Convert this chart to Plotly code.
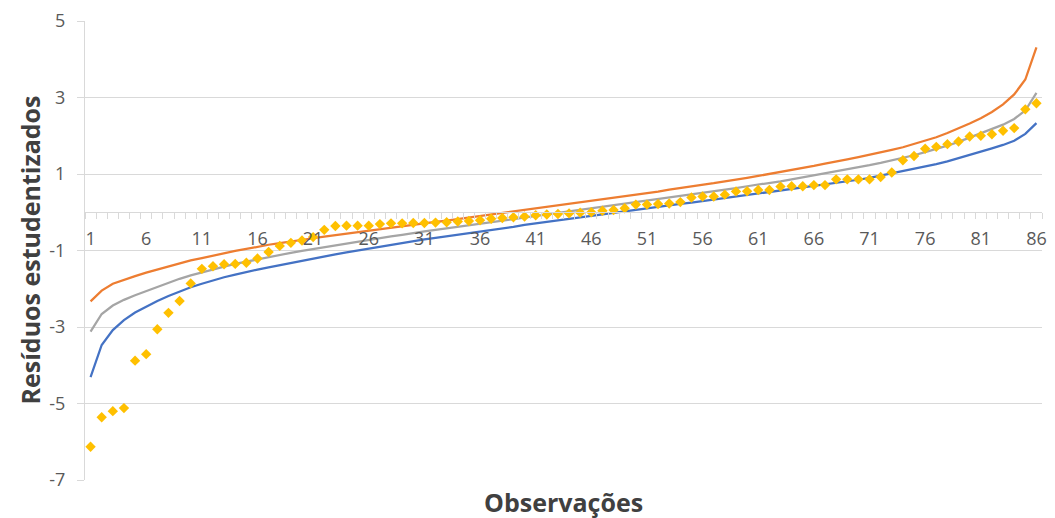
import plotly.graph_objects as go

obs = list(range(1, 87))

lower = [-4.31, -3.47, -3.08, -2.82, -2.62, -2.46, -2.32, -2.19, -2.07, -1.96,
         -1.87, -1.78, -1.70, -1.63, -1.56, -1.50, -1.44, -1.38, -1.32, -1.27,
         -1.21, -1.16, -1.10, -1.05, -1.00, -0.95, -0.90, -0.85, -0.81, -0.76,
         -0.71, -0.67, -0.63, -0.59, -0.54, -0.50, -0.46, -0.42, -0.38, -0.33,
         -0.29, -0.25, -0.21, -0.17, -0.13, -0.09, -0.05, -0.01, 0.03, 0.07,
         0.11, 0.14, 0.18, 0.22, 0.25, 0.29, 0.32, 0.37, 0.40, 0.45,
         0.48, 0.52, 0.56, 0.60, 0.64, 0.68, 0.72, 0.76, 0.81, 0.85,
         0.90, 0.96, 1.01, 1.07, 1.13, 1.20, 1.26, 1.33, 1.41, 1.50,
         1.58, 1.67, 1.76, 1.87, 2.05, 2.33]

upper = [-2.33, -2.05, -1.87, -1.76, -1.67, -1.58, -1.50, -1.41, -1.33, -1.26,
         -1.20, -1.13, -1.07, -1.01, -0.96, -0.90, -0.85, -0.81, -0.76, -0.72,
         -0.68, -0.64, -0.60, -0.56, -0.52, -0.48, -0.45, -0.40, -0.37, -0.32,
         -0.29, -0.25, -0.22, -0.18, -0.14, -0.11, -0.07, -0.03, 0.01, 0.05,
         0.09, 0.13, 0.17, 0.21, 0.25, 0.29, 0.33, 0.38, 0.42, 0.46,
         0.50, 0.54, 0.59, 0.63, 0.67, 0.71, 0.76, 0.81, 0.85, 0.90,
         0.95, 1.00, 1.05, 1.10, 1.16, 1.21, 1.27, 1.32, 1.38, 1.44,
         1.50, 1.56, 1.63, 1.70, 1.78, 1.87, 1.96, 2.07, 2.19, 2.32,
         2.46, 2.62, 2.82, 3.08, 3.47, 4.31]

median = [-3.12, -2.66, -2.44, -2.29, -2.17, -2.06, -1.95, -1.84, -1.74, -1.65,
          -1.57, -1.49, -1.42, -1.35, -1.29, -1.23, -1.17, -1.12, -1.06, -1.01,
          -0.96, -0.91, -0.86, -0.81, -0.77, -0.72, -0.68, -0.63, -0.59, -0.54,
          -0.50, -0.46, -0.42, -0.38, -0.34, -0.30, -0.26, -0.22, -0.18, -0.14,
          -0.10, -0.06, -0.02, 0.02, 0.06, 0.10, 0.14, 0.18, 0.22, 0.26,
          0.30, 0.34, 0.38, 0.42, 0.46, 0.50, 0.54, 0.59, 0.63, 0.68,
          0.72, 0.77, 0.81, 0.86, 0.91, 0.96, 1.01, 1.06, 1.12, 1.17,
          1.23, 1.29, 1.35, 1.42, 1.49, 1.57, 1.65, 1.74, 1.84, 1.95,
          2.06, 2.17, 2.29, 2.44, 2.66, 3.12]

residuals = [-6.13, -5.36, -5.20, -5.12, -3.88, -3.71, -3.06, -2.63, -2.32, -1.86,
             -1.48, -1.41, -1.36, -1.35, -1.32, -1.21, -1.04, -0.88, -0.80, -0.74,
             -0.65, -0.46, -0.36, -0.35, -0.35, -0.35, -0.31, -0.29, -0.29, -0.28,
             -0.28, -0.27, -0.26, -0.24, -0.23, -0.21, -0.17, -0.15, -0.13, -0.11,
             -0.08, -0.06, -0.045, -0.03, -0.01, 0.0, 0.04, 0.06, 0.105, 0.20,
             0.20, 0.215, 0.23, 0.265, 0.385, 0.41, 0.41, 0.46, 0.545, 0.55,
             0.58, 0.58, 0.67, 0.68, 0.68, 0.71, 0.71, 0.86, 0.86, 0.86,
             0.86, 0.92, 1.04, 1.36, 1.47, 1.66, 1.71, 1.78, 1.85, 1.98,
             2.00, 2.04, 2.13, 2.20, 2.69, 2.85]

y_ticks = [-7, -5, -3, -1, 1, 3, 5]
y_ticktext = ["-7", "-5", "-3", "-1", "1", "3", "5"]
x_ticks = list(range(1, 87, 5))

y_min, y_max = -7, 5

fig = go.Figure()
fig.add_trace(go.Scatter(x=obs, y=lower, mode="lines", name="Inferior",
                         line=dict(color="#4472C4", width=2.25)))
fig.add_trace(go.Scatter(x=obs, y=upper, mode="lines", name="Superior",
                         line=dict(color="#ED7D31", width=2.25)))
fig.add_trace(go.Scatter(x=obs, y=median, mode="lines", name="Mediana",
                         line=dict(color="#A5A5A5", width=2.25)))
fig.add_trace(go.Scatter(x=obs, y=residuals, mode="markers", name="Resíduos",
                         marker=dict(symbol="diamond", color="#FFC000", size=8,
                                     line=dict(width=0))))

tick_font = dict(family="'Open Sans', sans-serif", size=18, color="#595959")
title_font = dict(family="'Open Sans', sans-serif", size=25, color="#404040")

fig.update_layout(
    width=1055, height=518,
    margin=dict(l=85, r=8, t=17, b=38),
    paper_bgcolor="white", plot_bgcolor="white",
    showlegend=False,
    font=dict(family="'Open Sans', sans-serif", color="#595959", size=17),
    xaxis=dict(
        range=[0.5, 86.5],
        anchor="free",
        position=(0 - y_min) / (y_max - y_min),
        tickvals=x_ticks,
        ticktext=[str(v) for v in x_ticks],
        ticks="outside", ticklen=0,
        ticklabelstandoff=10,
        minor=dict(ticks="outside", ticklen=6, tick0=0.5, dtick=1,
                   tickcolor="#D9D9D9", tickwidth=1, showgrid=False),
        showline=True, linecolor="#D9D9D9", linewidth=1,
        showgrid=False, zeroline=False,
        tickfont=tick_font,
    ),
    yaxis=dict(
        range=[y_min, y_max],
        tickvals=y_ticks,
        ticktext=y_ticktext,
        ticks="outside", ticklen=7, tickcolor="#D9D9D9",
        ticklabelstandoff=8,
        showline=True, linecolor="#D9D9D9", linewidth=1,
        showgrid=True, gridcolor="#D9D9D9", gridwidth=1,
        zeroline=False,
        tickfont=tick_font,
    ),
    annotations=[
        dict(text="<b>Observações</b>", xref="paper", yref="paper",
             x=0.5, y=0, xanchor="center", yanchor="top", yshift=-3,
             showarrow=False, font=title_font),
        dict(text="<b>Resíduos estudentizados</b>", xref="paper", yref="paper",
             x=-0.0585, y=0.5, xanchor="center", yanchor="middle",
             textangle=-90, showarrow=False, font=title_font),
    ],
)

fig.write_html("out.html",
               config={"displayModeBar": False},
               post_script="document.body.style.margin='0';document.body.style.overflow='hidden';")
